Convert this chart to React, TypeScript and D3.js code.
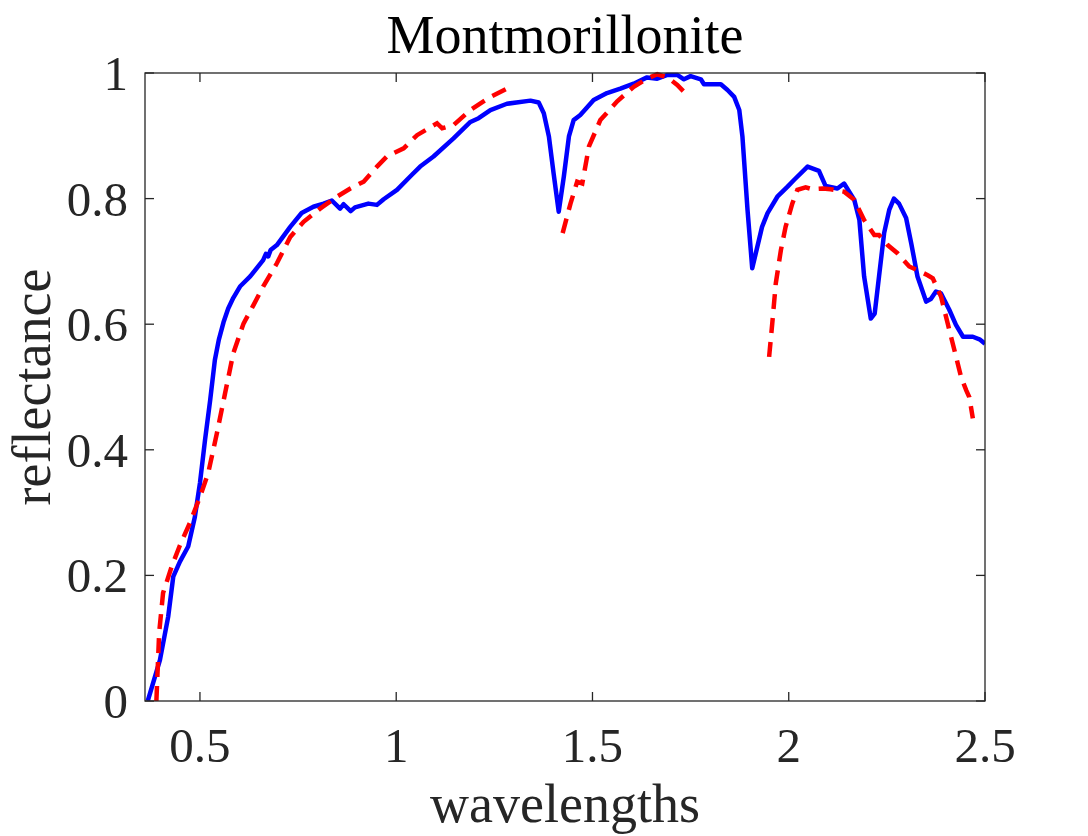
import React from 'react';
import * as d3 from 'd3';

// Spectral reflectance curves, [wavelength (µm), reflectance]
const libraryCurve: [number, number][] = [
  [0.367, 0], [0.398, 0.065], [0.419, 0.134], [0.432, 0.198], [0.449, 0.222],
  [0.470, 0.246], [0.487, 0.293], [0.500, 0.347], [0.513, 0.416], [0.526, 0.479],
  [0.538, 0.543], [0.548, 0.575], [0.560, 0.603], [0.572, 0.625], [0.585, 0.642],
  [0.602, 0.660], [0.628, 0.676], [0.661, 0.702], [0.668, 0.712], [0.674, 0.708],
  [0.680, 0.718], [0.696, 0.726], [0.730, 0.755], [0.759, 0.777], [0.789, 0.787],
  [0.815, 0.792], [0.836, 0.797], [0.857, 0.784], [0.866, 0.791], [0.884, 0.780],
  [0.895, 0.786], [0.929, 0.792], [0.951, 0.790], [0.968, 0.799], [1.002, 0.814],
  [1.040, 0.838], [1.061, 0.851], [1.095, 0.867], [1.146, 0.896], [1.189, 0.922],
  [1.210, 0.928], [1.240, 0.941], [1.282, 0.951], [1.342, 0.956], [1.363, 0.953],
  [1.376, 0.936], [1.389, 0.899], [1.401, 0.840], [1.414, 0.779], [1.427, 0.835],
  [1.440, 0.899], [1.452, 0.925], [1.469, 0.933], [1.503, 0.957], [1.537, 0.968],
  [1.571, 0.975], [1.605, 0.983], [1.639, 0.993], [1.665, 0.991], [1.691, 0.997],
  [1.716, 0.997], [1.733, 0.990], [1.750, 0.995], [1.776, 0.990], [1.784, 0.982],
  [1.810, 0.982], [1.827, 0.982], [1.844, 0.973], [1.861, 0.962], [1.874, 0.941],
  [1.882, 0.899], [1.895, 0.782], [1.907, 0.689], [1.932, 0.755], [1.946, 0.777],
  [1.971, 0.803], [1.997, 0.819], [2.014, 0.830], [2.048, 0.851], [2.077, 0.844],
  [2.094, 0.820], [2.124, 0.816], [2.141, 0.824], [2.167, 0.798], [2.180, 0.766],
  [2.192, 0.676], [2.209, 0.609], [2.219, 0.617], [2.230, 0.676], [2.243, 0.745],
  [2.256, 0.782], [2.268, 0.800], [2.281, 0.792], [2.299, 0.769], [2.312, 0.729],
  [2.328, 0.676], [2.350, 0.636], [2.362, 0.640], [2.375, 0.652], [2.388, 0.649],
  [2.409, 0.623], [2.426, 0.599], [2.444, 0.580], [2.469, 0.580], [2.486, 0.576],
  [2.500, 0.569],
];

// Estimated signature, with NaN where water-absorption bands were removed
const estimatedCurve: [number, number][] = [
  [0.389, 0], [0.396, 0.108], [0.406, 0.172], [0.428, 0.214], [0.449, 0.248],
  [0.474, 0.283], [0.500, 0.325], [0.521, 0.363], [0.543, 0.426], [0.564, 0.490],
  [0.585, 0.554], [0.611, 0.601], [0.636, 0.630], [0.661, 0.660], [0.696, 0.697],
  [0.730, 0.739], [0.764, 0.763], [0.806, 0.784], [0.849, 0.803], [0.883, 0.816],
  [0.917, 0.827], [0.951, 0.851], [0.976, 0.867], [1.019, 0.880], [1.053, 0.901],
  [1.104, 0.920], [1.117, 0.912], [1.146, 0.917], [1.189, 0.941], [1.240, 0.962],
  [1.291, 0.978],
  [NaN, NaN],
  [1.424, 0.745], [1.444, 0.792], [1.461, 0.827], [1.474, 0.824], [1.491, 0.883],
  [1.520, 0.925], [1.563, 0.955], [1.605, 0.978], [1.639, 0.991], [1.665, 0.998],
  [1.691, 0.993], [1.716, 0.981], [1.733, 0.970],
  [NaN, NaN],
  [1.950, 0.548], [1.958, 0.601], [1.967, 0.665], [1.980, 0.718], [1.992, 0.755],
  [2.009, 0.792], [2.022, 0.814], [2.043, 0.818], [2.060, 0.815], [2.086, 0.816],
  [2.107, 0.815], [2.141, 0.811], [2.167, 0.798], [2.192, 0.766], [2.218, 0.742],
  [2.230, 0.742], [2.252, 0.726], [2.277, 0.713], [2.307, 0.692], [2.328, 0.686],
  [2.354, 0.678], [2.367, 0.673], [2.388, 0.644], [2.405, 0.601], [2.422, 0.559],
  [2.439, 0.516], [2.452, 0.495], [2.460, 0.484], [2.469, 0.450],
];

const xTicks = [0.5, 1, 1.5, 2, 2.5];
const yTicks = [0, 0.2, 0.4, 0.6, 0.8, 1];

const width = 1088;
const height = 836;
const margin = { top: 73, right: 103, bottom: 135, left: 145 };
const axisColor = '#262626';
const font = '"Liberation Serif", "Times New Roman", serif';

export default function App() {
  const innerW = width - margin.left - margin.right;
  const innerH = height - margin.top - margin.bottom;

  const x = d3.scaleLinear().domain([0.36, 2.5]).range([0, innerW]);
  const y = d3.scaleLinear().domain([0, 1]).range([innerH, 0]);

  const line = d3.line<[number, number]>()
    .defined(d => !isNaN(d[0]))
    .x(d => x(d[0]))
    .y(d => y(d[1]));

  const tickLen = 9;

  return (
    <svg
      width={width}
      height={height}
      style={{ position: 'absolute', left: 0, top: 0, background: '#fff' }}
      fontFamily={font}
    >
      <defs>
        <clipPath id="plot-area">
          <rect x={0} y={-3} width={innerW} height={innerH + 3} />
        </clipPath>
      </defs>

      <text x={margin.left + innerW / 2} y={53} textAnchor="middle" fontSize={54} fill="#000">
        Montmorillonite
      </text>

      <g transform={`translate(${margin.left},${margin.top})`}>
        <g clipPath="url(#plot-area)">
          <path
            d={line(libraryCurve) ?? ''}
            fill="none"
            stroke="#0000ff"
            strokeWidth={4.5}
            strokeLinejoin="round"
          />
          <path
            d={line(estimatedCurve) ?? ''}
            fill="none"
            stroke="#ff0000"
            strokeWidth={4.5}
            strokeDasharray="15,9"
          />
        </g>

        {/* box with mirrored inward ticks */}
        <rect x={0} y={0} width={innerW} height={innerH} fill="none" stroke={axisColor} strokeWidth={1.3} />
        {xTicks.map(t => (
          <g key={`x${t}`} stroke={axisColor} strokeWidth={1.3}>
            <line x1={x(t)} x2={x(t)} y1={innerH} y2={innerH - tickLen} />
            <line x1={x(t)} x2={x(t)} y1={0} y2={tickLen} />
          </g>
        ))}
        {yTicks.map(t => (
          <g key={`y${t}`} stroke={axisColor} strokeWidth={1.3}>
            <line x1={0} x2={tickLen} y1={y(t)} y2={y(t)} />
            <line x1={innerW} x2={innerW - tickLen} y1={y(t)} y2={y(t)} />
          </g>
        ))}

        {xTicks.map(t => (
          <text key={`xl${t}`} x={x(t)} y={innerH + 61} textAnchor="middle" fontSize={49} fill={axisColor}>
            {String(t)}
          </text>
        ))}
        {yTicks.map(t => (
          <text key={`yl${t}`} x={-17} y={y(t) + 17} textAnchor="end" fontSize={49} fill={axisColor}>
            {String(t)}
          </text>
        ))}

        <text x={innerW / 2} y={innerH + 121} textAnchor="middle" fontSize={54} fill={axisColor}>
          wavelengths
        </text>
        <text
          transform={`translate(${-95},${innerH / 2}) rotate(-90)`}
          textAnchor="middle"
          fontSize={54}
          fill={axisColor}
        >
          reflectance
        </text>
      </g>
    </svg>
  );
}
